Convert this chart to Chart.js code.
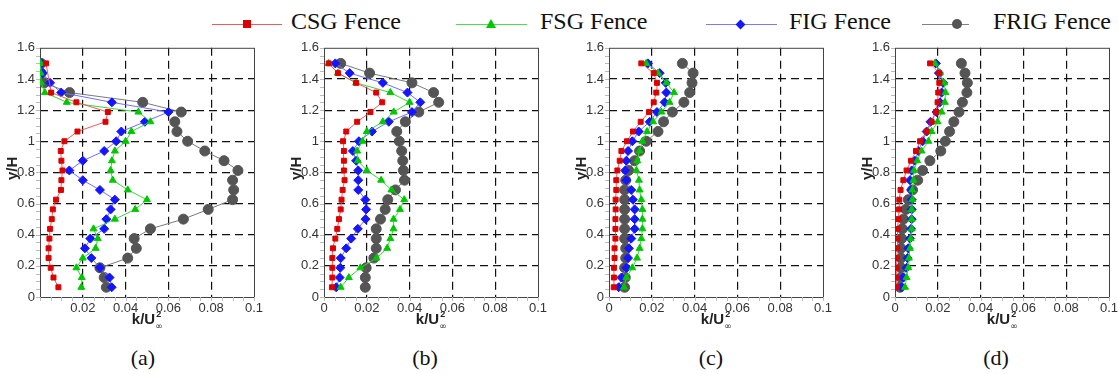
<!DOCTYPE html>
<html>
<head>
<meta charset="utf-8">
<script src="https://cdn.jsdelivr.net/npm/chart.js@4.4.1/dist/chart.umd.min.js"></script>
<style>
  html, body { margin: 0; padding: 0; background: #fff; overflow: hidden; }
  body { width: 1118px; height: 374px; position: relative; }
  .panel { position: absolute; top: 35px; width: 270px; height: 310px; }
  .lab { position: absolute; top: 345px; width: 60px; text-align: center;
         font: 22px "Liberation Serif", "Times New Roman", serif; color: #111; }
  .leg { position: absolute; top: 9px; height: 30px; }
  .leg .ln { position: absolute; top: 15px; height: 1px; }
  .leg .tx { position: absolute; top: -1px; white-space: nowrap;
             font: 24px "Liberation Serif", "Times New Roman", serif; color: #111; }
  .mk { position: absolute; }
</style>
</head>
<body>
<div class="leg" style="left:212px">
  <div class="ln" style="left:0;width:70px;background:#f05a5a"></div>
  <div class="mk" style="left:31px;top:11px;width:8px;height:8px;background:#dd0000"></div>
  <div class="tx" style="left:79px">CSG Fence</div>
</div>
<div class="leg" style="left:456px">
  <div class="ln" style="left:0;width:71px;background:#4ade4a"></div>
  <div class="mk" style="left:30px;top:10px;width:0;height:0;border-left:5px solid transparent;border-right:5px solid transparent;border-bottom:9px solid #00c800"></div>
  <div class="tx" style="left:84px">FSG Fence</div>
</div>
<div class="leg" style="left:706px">
  <div class="ln" style="left:0;width:71px;background:#7a7aff"></div>
  <div class="mk" style="left:31px;top:12px;width:7px;height:7px;background:#1515ff;transform:rotate(45deg)"></div>
  <div class="tx" style="left:83px">FIG Fence</div>
</div>
<div class="leg" style="left:922px">
  <div class="ln" style="left:0;width:47px;background:#808080"></div>
  <div class="mk" style="left:30px;top:10px;width:10px;height:10px;border-radius:50%;background:#555"></div>
  <div class="tx" style="left:71px">FRIG Fence</div>
</div>

<div class="panel" style="left:0px"><canvas id="pa"></canvas></div>
<div class="panel" style="left:284px"><canvas id="pb"></canvas></div>
<div class="panel" style="left:569px"><canvas id="pc"></canvas></div>
<div class="panel" style="left:855px"><canvas id="pd"></canvas></div>

<div class="lab" style="left:113px">(a)</div>
<div class="lab" style="left:395px">(b)</div>
<div class="lab" style="left:681px">(c)</div>
<div class="lab" style="left:966px">(d)</div>

<script>
// heights y/H where k was sampled
var yLevels = [0.0625, 0.125, 0.1875, 0.25, 0.3125, 0.375, 0.4375, 0.5, 0.5625, 0.625, 0.6875, 0.75,
               0.8125, 0.875, 0.9375, 1.0, 1.0625, 1.125, 1.1875, 1.25, 1.3125, 1.375, 1.4375, 1.5];
var xTicks = [0, 0.02, 0.04, 0.06, 0.08, 0.1];
var yTicks = [0, 0.2, 0.4, 0.6, 0.8, 1, 1.2, 1.4, 1.6];
var seriesNames = ['CSG Fence', 'FSG Fence', 'FIG Fence', 'FRIG Fence'];

// (a)
var csgA = [0.0086, 0.0063, 0.005, 0.004, 0.004, 0.0044, 0.0047, 0.0055, 0.006, 0.0075, 0.0098, 0.010,
            0.0105, 0.010, 0.0097, 0.0114, 0.0175, 0.0306, 0.0317, 0.017, 0.0052, null, null, 0.0028];
var fsgA = [0.0193, 0.0195, 0.017, 0.020, 0.026, 0.027, 0.025, 0.035, 0.0445, 0.050, 0.041, 0.034,
            0.033, 0.0336, 0.035, 0.040, 0.0427, 0.0516, 0.046, 0.0125, 0.0023, 0.0004, 0.0003, 0.0003];
var figA = [0.0335, 0.0325, 0.028, 0.024, 0.021, 0.0235, 0.030, 0.031, 0.033, 0.035, 0.028, 0.020,
            0.0137, 0.020, 0.030, 0.0356, 0.038, 0.049, 0.060, 0.0336, 0.0099, 0.0047, 0.0013, 0.0008];
var frigA = [0.031, 0.030, 0.028, 0.041, 0.045, 0.044, 0.0516, 0.067, 0.0786, 0.090, 0.0905, 0.090,
             0.0925, 0.086, 0.077, 0.069, 0.064, 0.063, 0.066, 0.048, 0.0138, 0.002, 0.0005, 0.0005];
// (b)
var csgB = [0.0037, 0.0039, 0.0039, 0.0039, 0.0042, 0.0053, 0.0062, 0.007, 0.0078, 0.0082, 0.0087, 0.0096,
            0.0093, 0.0093, 0.0093, 0.0089, 0.0104, 0.0155, 0.0217, 0.0272, 0.0244, 0.015, 0.0065, 0.0022];
var fsgB = [0.0078, 0.0116, 0.017, 0.0245, 0.0295, 0.031, 0.0325, 0.0325, 0.0355, 0.0375, 0.0315, 0.0267,
            0.020, 0.0158, 0.0155, 0.018, 0.020, 0.0275, 0.0326, 0.040, 0.031, 0.015, 0.0065, 0.0022];
var figB = [0.0057, 0.0073, 0.0076, 0.0078, 0.0104, 0.0127, 0.0158, 0.0194, 0.0197, 0.0193, 0.016, 0.016,
            0.016, 0.015, 0.0135, 0.0163, 0.0224, 0.0303, 0.0411, 0.045, 0.039, 0.0275, 0.012, 0.0053];
var frigB = [0.0193, 0.0193, 0.0197, 0.0233, 0.0244, 0.0244, 0.0244, 0.0264, 0.0286, 0.0298, 0.0334, 0.0376,
             0.0371, 0.0368, 0.0363, 0.0352, 0.034, 0.038, 0.0443, 0.0536, 0.0512, 0.0411, 0.0213, 0.0078];
// (c)
var csgC = [0.0022, 0.0023, 0.0023, 0.0026, 0.0026, 0.003, 0.003, 0.003, 0.0031, 0.0031, 0.0034, 0.0034,
            0.0039, 0.005, 0.0058, 0.0084, 0.0112, 0.0148, 0.0187, 0.0209, 0.0221, 0.0224, 0.0209, 0.0151];
var fsgC = [0.007, 0.0081, 0.0109, 0.0131, 0.0143, 0.0151, 0.0156, 0.0156, 0.0156, 0.0151, 0.0143, 0.014,
            0.0128, 0.0132, 0.0143, 0.0156, 0.0178, 0.0206, 0.0245, 0.0283, 0.0304, 0.0268, 0.0229, 0.0174];
var figC = [0.0045, 0.0058, 0.0081, 0.0089, 0.0093, 0.0104, 0.012, 0.012, 0.012, 0.0112, 0.0104, 0.0081,
            0.0076, 0.0081, 0.0089, 0.0109, 0.0139, 0.019, 0.0224, 0.026, 0.0268, 0.0265, 0.0237, 0.0182];
var frigC = [0.0073, 0.0076, 0.0073, 0.0078, 0.0078, 0.0073, 0.0073, 0.0073, 0.0073, 0.0073, 0.0073, 0.0078,
             0.0092, 0.012, 0.0143, 0.0174, 0.0229, 0.0255, 0.0296, 0.035, 0.0377, 0.0388, 0.0393, 0.0343];
// (d)
var csgD = [0.0008, 0.0008, 0.0008, 0.0008, 0.0011, 0.0011, 0.0012, 0.0016, 0.0019, 0.002, 0.0026, 0.0039,
            0.0054, 0.0075, 0.0098, 0.0117, 0.0148, 0.0171, 0.0191, 0.0199, 0.0202, 0.0207, 0.0207, 0.0164];
var fsgD = [0.0047, 0.0054, 0.0062, 0.0065, 0.007, 0.0073, 0.0078, 0.0078, 0.0078, 0.0081, 0.0081, 0.0086,
            0.0089, 0.0104, 0.0124, 0.0156, 0.0171, 0.0199, 0.0218, 0.0233, 0.0236, 0.023, 0.021, 0.0187];
var figD = [0.0031, 0.0039, 0.0054, 0.0059, 0.0062, 0.007, 0.0075, 0.0078, 0.0078, 0.0078, 0.0075, 0.007,
            0.0078, 0.0093, 0.0109, 0.0129, 0.0148, 0.0166, 0.0194, 0.021, 0.0218, 0.0225, 0.0205, 0.0191];
var frigD = [0.0023, 0.0028, 0.0028, 0.0028, 0.0028, 0.0031, 0.0034, 0.0039, 0.0051, 0.0062, 0.0082, 0.0106,
             0.0129, 0.0163, 0.0214, 0.0235, 0.0255, 0.0275, 0.0299, 0.0315, 0.0336, 0.0338, 0.0327, 0.031];

var looks = [
  { line: '#f05a5a', fill: '#dd0000', style: 'rect', r: 3.5 },
  { line: '#3ad83a', fill: '#00c800', style: 'triangle', r: 4 },
  { line: '#6f6fff', fill: '#1515ff', style: 'rectRot', r: 4.5 },
  { line: '#7a7a7a', fill: '#555555', style: 'circle', r: 5 }
];

function pts(vals) {
  var out = [];
  for (var i = 0; i < yLevels.length; i++) {
    if (vals[i] !== null) out.push({ x: vals[i], y: yLevels[i] });
  }
  return out;
}

// frame + axis titles
var deco = {
  id: 'deco',
  beforeDatasetsDraw: function(chart) {
    var a = chart.chartArea, c = chart.ctx;
    c.save();
    c.strokeStyle = '#444';
    c.lineWidth = 1;
    c.strokeRect(a.left + 0.5, a.top + 0.5, a.right - a.left, a.bottom - a.top);
    // minor ticks on left and bottom
    c.strokeStyle = '#bbb';
    var ys = chart.scales.y, xs = chart.scales.x;
    for (var v = 0; v <= 1.6001; v += 0.05) {
      var py = Math.round(ys.getPixelForValue(v)) + 0.5;
      c.beginPath(); c.moveTo(a.left - 4, py); c.lineTo(a.left, py); c.stroke();
    }
    for (var u = 0; u <= 0.1001; u += 0.005) {
      var px = Math.round(xs.getPixelForValue(u)) + 0.5;
      c.beginPath(); c.moveTo(px, a.bottom); c.lineTo(px, a.bottom + 4); c.stroke();
    }
    c.restore();
  },
  afterDraw: function(chart) {
    var a = chart.chartArea, c = chart.ctx;
    c.save();
    c.fillStyle = '#222';
    c.font = 'bold 15px "Liberation Sans", Arial, sans-serif';
    c.textAlign = 'center';
    c.textBaseline = 'middle';
    c.translate(a.left - 27, (a.top + a.bottom) / 2 - 4);
    c.rotate(-Math.PI / 2);
    c.fillText('y/H', 0, 0);
    c.restore();

    c.save();
    c.fillStyle = '#222';
    c.font = 'bold 15px "Liberation Sans", Arial, sans-serif';
    c.textBaseline = 'alphabetic';
    c.textAlign = 'left';
    var w = c.measureText('k/U').width;
    var x0 = (a.left + a.right) / 2 - (w + 7) / 2;
    var base = a.bottom + 27;
    c.fillText('k/U', x0, base);
    c.font = 'bold 9px "Liberation Sans", Arial, sans-serif';
    c.fillText('2', x0 + w + 1, base - 7);
    c.font = '9px "DejaVu Sans", sans-serif';
    c.fillText('\u221E', x0 + w, base + 5);
    c.restore();
  }
};

function makePanel(id, lists, hideXZero) {
  var sets = [];
  for (var i = 0; i < lists.length; i++) {
    var lk = looks[i];
    sets.push({
      label: seriesNames[i],
      data: pts(lists[i]),
      borderColor: lk.line,
      borderWidth: 1,
      backgroundColor: lk.fill,
      pointBackgroundColor: lk.fill,
      pointBorderColor: lk.fill,
      pointBorderWidth: 1,
      pointStyle: lk.style,
      pointRadius: lk.r,
      showLine: true,
      tension: 0
    });
  }
  var tickFont = { family: '"Liberation Sans", Arial, sans-serif', size: 13 };
  return new Chart(document.getElementById(id), {
    type: 'scatter',
    data: { datasets: sets },
    options: {
      responsive: true,
      maintainAspectRatio: false,
      animation: false,
      layout: { padding: { top: 10, right: 16, left: 0, bottom: 0 } },
      plugins: { legend: { display: false }, tooltip: { enabled: false } },
      scales: {
        x: {
          type: 'linear', min: 0, max: 0.1,
          afterBuildTicks: function(s) { s.ticks = xTicks.map(function(v) { return { value: v }; }); },
          afterFit: function(s) { s.height = 48; },
          ticks: { font: tickFont, color: '#333', padding: 4, maxRotation: 0,
                   callback: function(v) { return (hideXZero && v === 0) ? '' : String(+v.toFixed(2)); } },
          grid: { drawTicks: false, lineWidth: 1.2,
                  color: function(c) { var v = c.tick && c.tick.value; return (v <= 0 || v >= 0.1) ? 'rgba(0,0,0,0)' : '#111'; } },
          border: { display: false, dash: [8, 5] }
        },
        y: {
          type: 'linear', min: 0, max: 1.6,
          afterBuildTicks: function(s) { s.ticks = yTicks.map(function(v) { return { value: v }; }); },
          afterFit: function(s) { s.width = 40; },
          ticks: { font: tickFont, color: '#333', padding: 5,
                   callback: function(v) { return String(+v.toFixed(2)); } },
          grid: { drawTicks: false, lineWidth: 1.2,
                  color: function(c) { var v = c.tick && c.tick.value; return (v <= 0 || v >= 1.6) ? 'rgba(0,0,0,0)' : '#111'; } },
          border: { display: false, dash: [8, 5] }
        }
      }
    },
    plugins: [deco]
  });
}

makePanel('pa', [csgA, fsgA, figA, frigA], true);
makePanel('pb', [csgB, fsgB, figB, frigB], false);
makePanel('pc', [csgC, fsgC, figC, frigC], false);
makePanel('pd', [csgD, fsgD, figD, frigD], false);
</script>
</body>
</html>
